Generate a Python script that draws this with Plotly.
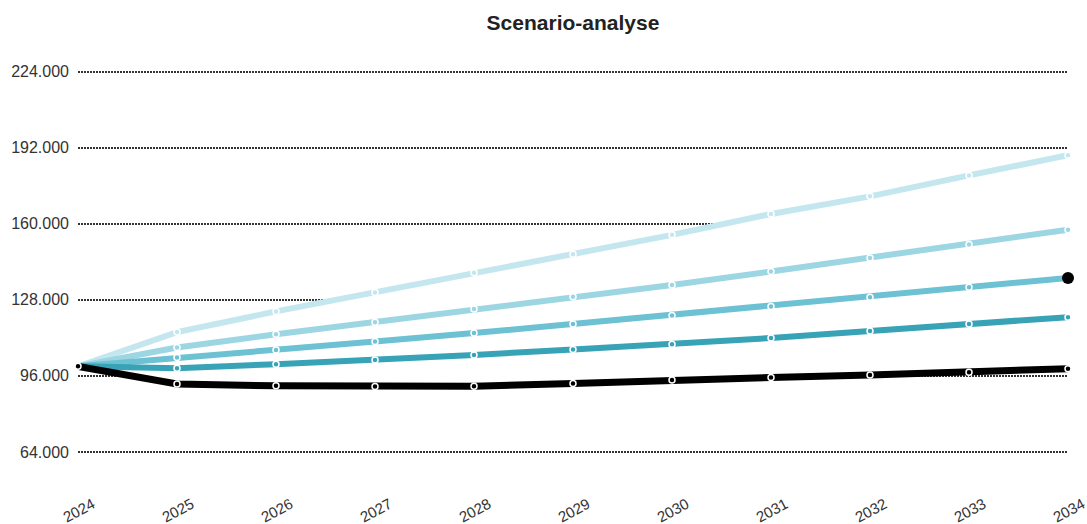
import plotly.graph_objects as go

# Scenario projections per year (euro)
years = [2024, 2025, 2026, 2027, 2028, 2029, 2030, 2031, 2032, 2033, 2034]
year_labels = [str(y) for y in years]

scenario_high = [100000, 114400, 123100, 131100, 139400, 147100, 155300, 164100, 171500, 180300, 188800]
scenario_mid_high = [100000, 107900, 113500, 118600, 124100, 129300, 134200, 139900, 145600, 151200, 157500]
scenario_mid = [100000, 103700, 106900, 110500, 114000, 117800, 121400, 125200, 129100, 133300, 137200]
scenario_mid_low = [100000, 99200, 100900, 102700, 104800, 107100, 109300, 111900, 114900, 117800, 120700]
scenario_low = [100000, 92600, 91800, 91500, 91600, 92800, 94300, 95300, 96400, 97500, 99000]

y_ticks = [64000, 96000, 128000, 160000, 192000, 224000]

series = [
    ("Hoog", scenario_high, "#c4e7ef", 6),
    ("Midden-hoog", scenario_mid_high, "#9dd6e3", 6),
    ("Midden", scenario_mid, "#6cc1d3", 6),
    ("Midden-laag", scenario_mid_low, "#38a2b6", 6),
    ("Laag", scenario_low, "#000000", 7),
]

fig = go.Figure()

# white band between the lowest and highest scenario (covers the grid)
fig.add_trace(go.Scatter(x=years, y=scenario_low, mode="lines",
                         line=dict(width=0, color="white"),
                         hoverinfo="skip", showlegend=False))
fig.add_trace(go.Scatter(x=years, y=scenario_high, mode="lines",
                         line=dict(width=0, color="white"),
                         fill="tonexty", fillcolor="white",
                         hoverinfo="skip", showlegend=False))

for name, vals, color, width in series:
    fig.add_trace(go.Scatter(
        x=years, y=vals, name=name, mode="lines+markers",
        line=dict(color=color, width=width),
        marker=dict(size=6, color=color, line=dict(color="white", width=1.5)),
        cliponaxis=False, showlegend=False,
    ))

# highlighted end point of the middle scenario
fig.add_trace(go.Scatter(
    x=[years[-1]], y=[scenario_mid[-1]], mode="markers",
    marker=dict(size=12, color="#000000"),
    cliponaxis=False, showlegend=False, hoverinfo="skip",
))

for y, lab in zip(years, year_labels):
    fig.add_annotation(x=y, y=0, xref="x", yref="paper", text=lab,
                       showarrow=False, textangle=-28, yshift=-20,
                       xanchor="center", yanchor="middle",
                       font=dict(size=15, color="#333333"))

fig.update_layout(
    width=1087, height=524,
    margin=dict(l=78, r=19, t=62, b=34),
    paper_bgcolor="white", plot_bgcolor="white",
    separators=",.",
    font=dict(family="Liberation Sans, Arial, sans-serif", color="#333333"),
    title=dict(text="<b>Scenario-analyse</b>", x=0.5, xref="paper",
               y=1 - 23 / 524, yref="container", yanchor="middle",
               font=dict(size=21, color="#222222")),
    xaxis=dict(range=[2024, 2034], showgrid=False, zeroline=False,
               showline=False, showticklabels=False, ticks=""),
    yaxis=dict(range=[48000, 228000], tickvals=y_ticks, tickformat=",.0f",
               showgrid=True, gridcolor="#333333", gridwidth=2,
               griddash="2px,1px", zeroline=False, showline=False,
               ticks="", ticklabelstandoff=8,
               tickfont=dict(size=16, color="#333333")),
)

fig.write_html("out.html")
